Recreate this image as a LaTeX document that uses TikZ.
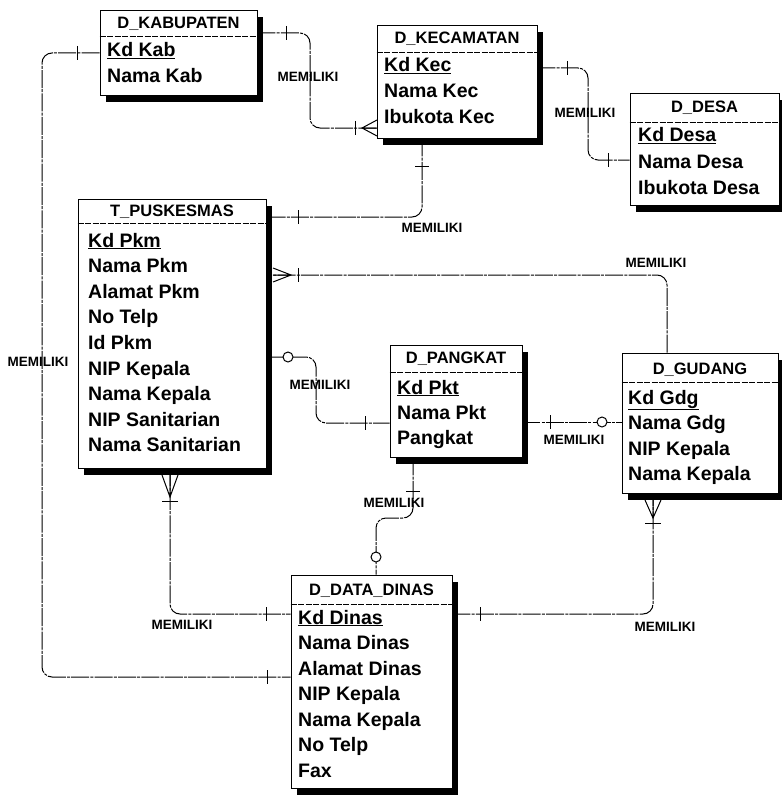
\documentclass[tikz,border=0pt]{standalone}
\usepackage{fontspec}
\setmainfont{Liberation Sans}
\usetikzlibrary{shadows}

\tikzset{
  entity/.style={draw, line width=0.9pt, fill=white, inner sep=0pt,
    drop shadow={shadow xshift=6pt, shadow yshift=-7pt, fill=black, opacity=1}},
  hline/.style={line width=0.8pt, dash pattern=on 6pt off 1.5pt},
  etitle/.style={font=\bfseries\fontsize{16.5}{18}\selectfont, anchor=base, inner sep=0pt},
  attr/.style={font=\bfseries\fontsize{19.5}{21}\selectfont, anchor=base west, inner sep=0pt},
  rel/.style={line width=1pt, rounded corners=10pt, dash pattern=on 18pt off 1.2pt on 3pt off 1.2pt},
  relname/.style={font=\bfseries\fontsize{13.5}{14}\selectfont, inner sep=0pt},
  mark1/.style={line width=1pt},
  opt/.style={line width=1pt, fill=white},
}

\begin{document}
\begin{tikzpicture}[x=1pt,y=-1pt]
  \useasboundingbox (0,0) rectangle (781,797);

  % D_KABUPATEN
  \node[entity, minimum width=157pt, minimum height=85pt] (kab) at (178.5,52.5) {};
  \draw[hline] (kab.west |- 0,36) -- (kab.east |- 0,36);
  \node[etitle] (kab-t) at (178.5,29) {D\_KABUPATEN};
  \node[attr] (kab-1) at (107,57) {\underline{Kd Kab}};
  \node[attr] (kab-2) at (107,83) {Nama Kab};

  % D_KECAMATAN
  \node[entity, minimum width=160pt, minimum height=113pt] (kec) at (457,81.5) {};
  \draw[hline] (kec.west |- 0,52) -- (kec.east |- 0,52);
  \node[etitle] (kec-t) at (457,44) {D\_KECAMATAN};
  \node[attr] (kec-1) at (384,72) {\underline{Kd Kec}};
  \node[attr] (kec-2) at (384,98) {Nama Kec};
  \node[attr] (kec-3) at (384,124) {Ibukota Kec};

  % D_DESA
  \node[entity, minimum width=149pt, minimum height=112pt] (desa) at (704.5,149) {};
  \draw[hline] (desa.west |- 0,122) -- (desa.east |- 0,122);
  \node[etitle] (desa-t) at (704.5,113) {D\_DESA};
  \node[attr] (desa-1) at (638,142) {\underline{Kd Desa}};
  \node[attr] (desa-2) at (638,168) {Nama Desa};
  \node[attr] (desa-3) at (638,194) {Ibukota Desa};

  % T_PUSKESMAS
  \node[entity, minimum width=188pt, minimum height=269pt] (pkm) at (172,333.5) {};
  \draw[hline] (pkm.west |- 0,223) -- (pkm.east |- 0,223);
  \node[etitle] (pkm-t) at (172,216) {T\_PUSKESMAS};
  \node[attr] (pkm-1) at (88,247) {\underline{Kd Pkm}};
  \foreach \a [count=\i from 2] in {Nama Pkm, Alamat Pkm, No Telp, Id Pkm,
      NIP Kepala, Nama Kepala, NIP Sanitarian, Nama Sanitarian}
    \node[attr] (pkm-\i) at (88,221.4+25.6*\i) {\a};

  % D_PANGKAT
  \node[entity, minimum width=132pt, minimum height=112pt] (pkt) at (456,401) {};
  \draw[hline] (pkt.west |- 0,372) -- (pkt.east |- 0,372);
  \node[etitle] (pkt-t) at (456,363) {D\_PANGKAT};
  \node[attr] (pkt-1) at (397,394) {\underline{Kd Pkt}};
  \node[attr] (pkt-2) at (397,419) {Nama Pkt};
  \node[attr] (pkt-3) at (397,444) {Pangkat};

  % D_GUDANG
  \node[entity, minimum width=156pt, minimum height=140pt] (gdg) at (700,423) {};
  \draw[hline] (gdg.west |- 0,382) -- (gdg.east |- 0,382);
  \node[etitle] (gdg-t) at (700,374) {D\_GUDANG};
  \node[attr] (gdg-1) at (628,404) {\underline{Kd Gdg}};
  \foreach \a [count=\i from 2] in {Nama Gdg, NIP Kepala, Nama Kepala}
    \node[attr] (gdg-\i) at (628,378.5+25.5*\i) {\a};

  % D_DATA_DINAS
  \node[entity, minimum width=161pt, minimum height=213pt] (dinas) at (371.5,681.5) {};
  \draw[hline] (dinas.west |- 0,604) -- (dinas.east |- 0,604);
  \node[etitle] (dinas-t) at (371.5,595) {D\_DATA\_DINAS};
  \node[attr] (dinas-1) at (298,624) {\underline{Kd Dinas}};
  \foreach \a [count=\i from 2] in {Nama Dinas, Alamat Dinas, NIP Kepala,
      Nama Kepala, No Telp, Fax}
    \node[attr] (dinas-\i) at (298,598.5+25.5*\i) {\a};

  % kabupaten - kecamatan
  \draw[rel] (kab.east |- 0,33) -- (310,33) -- (310,128) -- (kec.west |- 0,128);
  \draw[mark1] (286,26) -- (286,40);
  \draw[mark1] (355,121) -- (355,135);
  \draw[mark1] (377,120) -- (362,128) -- (377,136) (362,128) -- (377,128);
  \node[relname] (r-kabkec) at (308,77) {MEMILIKI};

  % kecamatan - desa
  \draw[rel] (kec.east |- 0,68) -- (588,68) -- (588,160) -- (desa.west |- 0,160);
  \draw[mark1] (567,61) -- (567,75);
  \draw[mark1] (608,153) -- (608,167);
  \node[relname] (r-kecdesa) at (585,113) {MEMILIKI};

  % kecamatan - puskesmas
  \draw[rel] (kec.south -| 422,0) -- (422,217) -- (pkm.east |- 0,217);
  \draw[mark1] (415,166) -- (429,166);
  \draw[mark1] (298,210) -- (298,224);
  \node[relname] (r-kecpkm) at (432,228) {MEMILIKI};

  % gudang - puskesmas
  \draw[rel] (gdg.north -| 667,0) -- (667,275) -- (pkm.east |- 0,275);
  \draw[mark1] (298,268) -- (298,282);
  \draw[mark1] (273,268) -- (291,275) -- (273,282) (291,275) -- (273,275);
  \node[relname] (r-gdgpkm) at (656,263) {MEMILIKI};

  % pangkat - puskesmas
  \draw[rel] (pkm.east |- 0,357) -- (316,357) -- (316,423) -- (pkt.west |- 0,423);
  \draw[opt] (288,357) circle (5pt);
  \draw[mark1] (365,416) -- (365,430);
  \node[relname] (r-pktpkm) at (320,385) {MEMILIKI};

  % pangkat - gudang
  \draw[rel] (pkt.east |- 0,422) -- (gdg.west |- 0,422);
  \draw[mark1] (550,415) -- (550,429);
  \draw[opt] (602,422) circle (5pt);
  \node[relname] (r-pktgdg) at (574,440) {MEMILIKI};

  % pangkat - data dinas
  \draw[rel] (pkt.south -| 413,0) -- (413,518) -- (376,518) -- (dinas.north -| 376,0);
  \draw[mark1] (406,491) -- (420,491);
  \draw[opt] (376,557) circle (5pt);
  \node[relname] (r-pktdinas) at (394,503) {MEMILIKI};

  % puskesmas - data dinas
  \draw[rel] (pkm.south -| 170,0) -- (170,614) -- (dinas.west |- 0,614);
  \draw[mark1] (162,475) -- (170,497) -- (178,475) (170,497) -- (170,475);
  \draw[mark1] (162,501) -- (178,501);
  \draw[mark1] (266,607) -- (266,621);
  \node[relname] (r-pkmdinas) at (182,625) {MEMILIKI};

  % data dinas - gudang
  \draw[rel] (dinas.east |- 0,614) -- (653,614) -- (gdg.south -| 653,0);
  \draw[mark1] (480,607) -- (480,621);
  \draw[mark1] (645,500) -- (653,518) -- (661,500) (653,518) -- (653,500);
  \draw[mark1] (645,523) -- (661,523);
  \node[relname] (r-dinasgdg) at (665,627) {MEMILIKI};

  % kabupaten - data dinas
  \draw[rel] (kab.west |- 0,53) -- (42,53) -- (42,677) -- (dinas.west |- 0,677);
  \draw[mark1] (77,46) -- (77,60);
  \draw[mark1] (267,670) -- (267,684);
  \node[relname] (r-kabdinas) at (38,362) {MEMILIKI};
\end{tikzpicture}
\end{document}
